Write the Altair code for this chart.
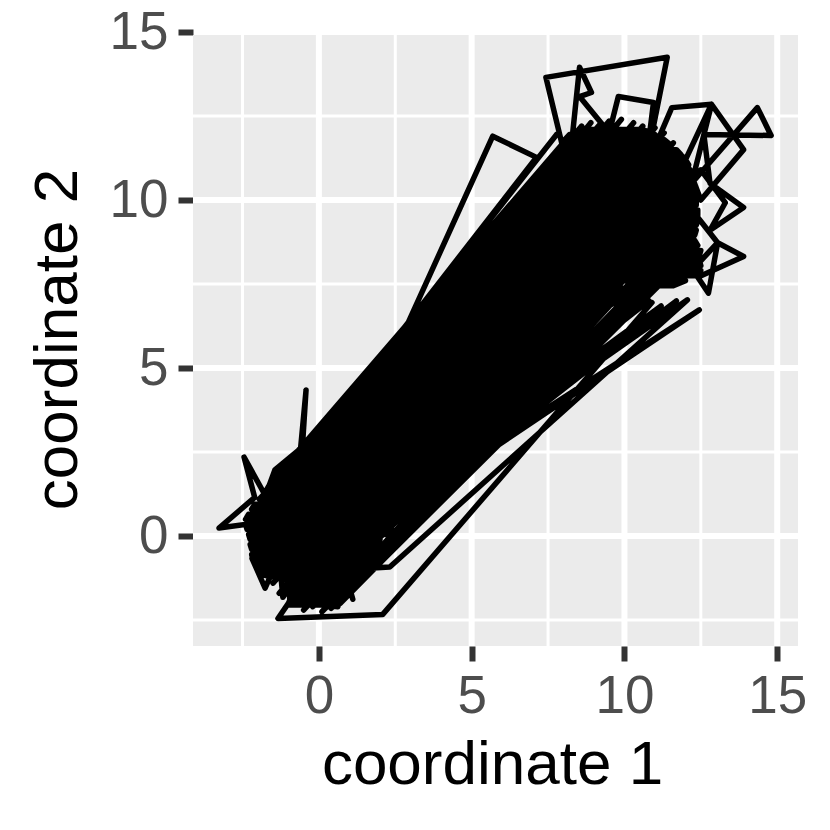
import altair as alt
import pandas as pd

# Path, in drawing order: coordinate 1 and coordinate 2
band_x = [-1.05,8.0,-1.35,8.3,-0.7,8.05,-1.9,8.6,-0.45,8.1,-1.6,8.9,-0.1,8.3,-2.1,9.2,0.05,8.25,-1.95,9.5,
          0.3,8.4,-2.2,9.9,0.5,8.5,-1.8,10.3,0.7,8.5,-1.9,10.6,0.8,8.7,-1.5,11.0,1.0,8.9,-1.3,11.3,
          1.15,9.0,-1.0,11.6,1.3,9.3,-0.75,11.9,1.45,9.5,-0.5,12.1,1.6,9.9,-0.2,12.3,1.7,10.3,0.1,12.35,
          1.75,10.7,0.4,12.3,1.5,11.0,0.7,12.2,1.2,11.4,1.0,12.0,0.9,11.7,
          -0.8,9.0,-0.5,9.4,-0.2,9.0,-1.0,9.9,0.0,9.2,-0.8,10.3,0.2,9.4,-0.6,10.6,0.4,9.7,-0.3,10.9,
          0.6,10.0,0.0,11.1,0.8,10.3,0.3,11.3,1.0,10.6]
band_y = [2.15,11.7,1.6,11.9,2.3,11.2,1.1,12.2,2.2,10.9,0.7,12.3,2.3,10.6,0.6,12.25,2.0,10.2,0.1,12.35,
          1.9,9.9,-0.3,12.4,1.7,9.6,-0.6,12.3,1.5,9.3,-1.1,12.2,1.2,9.0,-1.4,12.15,1.05,8.6,-1.7,12.0,
          0.8,8.3,-1.6,11.7,0.5,8.0,-2.0,11.3,0.25,7.7,-2.2,10.9,0.0,7.4,-2.1,10.4,-0.3,7.2,-2.25,10.0,
          -0.6,7.3,-2.15,9.6,-0.9,7.5,-2.0,9.1,-1.2,7.7,-1.7,8.7,-1.5,8.0,
          1.5,11.0,1.0,10.9,1.3,10.4,0.6,11.3,0.9,10.0,0.1,11.0,0.6,9.6,-0.4,10.6,0.3,9.3,-0.7,10.3,
          0.0,9.0,-1.0,9.9,-0.3,8.7,-1.2,9.4,-0.6,8.4]

sweep_low_x = [-1.25,-1.19,-1.13,-1.08,-1.02,-0.96,-0.91,-0.85,-0.79,-0.73,-0.68,-0.62,-0.56,-0.50,-0.45,-0.39,-0.33,-0.27,-0.22,-0.16,
               -0.10,-0.04,0.01,0.07,0.13,0.19,0.25,0.30,0.36,0.42,0.47,0.53,0.59,0.65,0.70,0.76,0.82,0.88,0.93,0.99]
sweep_low_y = [1.65,1.59,1.53,1.48,1.42,1.36,1.31,1.25,1.19,1.13,1.08,1.02,0.96,0.90,0.85,0.79,0.73,0.67,0.62,0.56,
               0.50,0.44,0.39,0.33,0.27,0.21,0.15,0.10,0.04,-0.02,-0.07,-0.13,-0.19,-0.25,-0.30,-0.36,-0.42,-0.48,-0.53,-0.59]
sweep_high_x = [8.25,8.32,8.39,8.46,8.53,8.60,8.67,8.74,8.81,8.88,8.95,9.02,9.09,9.16,9.23,9.30,9.37,9.44,9.51,9.58,
                9.65,9.72,9.79,9.86,9.93,10.00,10.07,10.14,10.21,10.28,10.35,10.42,10.49,10.56,10.63,10.70,10.77,10.84,10.91,10.98]
sweep_high_y = [11.25,11.18,11.11,11.04,10.97,10.90,10.83,10.76,10.69,10.62,10.55,10.48,10.41,10.34,10.27,10.20,10.13,10.06,9.99,9.92,
                9.85,9.78,9.71,9.64,9.57,9.50,9.43,9.36,9.29,9.22,9.15,9.08,9.01,8.94,8.87,8.80,8.73,8.66,8.59,8.52]

upper_rows_y = [12.1,11.95,11.8,11.65,11.5,11.35,11.2,11.05,10.9,10.75,10.6,10.45,10.3,10.15,10.0,9.85,
                9.7,9.55,9.4,9.25,9.1,8.95,8.8,8.65,8.5,8.35,8.2,8.05,7.9,7.75,7.6,7.45]
upper_rows_left = [8.6,8.2,8.05,8.0,7.95,7.9,7.9,7.9,7.9,8.0,8.0,8.0,8.0,8.0,8.0,8.0,
                   8.2,8.2,8.4,8.4,8.6,8.6,8.8,8.8,9.0,9.0,9.2,9.3,9.5,9.7,10.0,10.3]
upper_rows_right = [10.6,11.0,11.3,11.5,11.7,11.85,12.0,12.1,12.15,12.2,12.25,12.3,12.3,12.35,12.35,12.35,
                    12.4,12.4,12.4,12.35,12.35,12.3,12.3,12.4,12.5,12.45,12.45,12.5,12.5,12.3,12.0,11.6]

lower_rows_y = [2.0,1.85,1.7,1.55,1.4,1.25,1.1,0.95,0.8,0.65,0.5,0.35,0.2,0.05,-0.1,-0.25,
                -0.4,-0.55,-0.7,-0.85,-1.0,-1.15,-1.3,-1.45,-1.6,-1.75,-1.9,-2.05]
lower_rows_left = [-1.3,-1.4,-1.5,-1.6,-1.7,-1.8,-1.95,-2.1,-2.2,-2.3,-2.4,-2.4,-2.35,-2.3,-2.25,-2.25,
                   -2.2,-2.2,-2.15,-2.05,-1.9,-1.85,-1.1,-0.9,-0.8,-0.85,-0.9,-0.95]
lower_rows_right = [0.6,1.0,1.3,1.5,1.6,1.7,1.8,1.9,2.0,2.2,2.5,2.4,2.4,2.2,2.0,1.9,
                    1.85,1.8,1.75,1.65,1.2,1.1,1.1,1.05,1.0,0.9,0.7,0.6]

low_x = [-0.9,-2.0,-3.27,-2.1,-2.45,-1.75,-1.44,-0.6,-0.42,-0.55,-1.2,-2.19,-1.76,-1.3,-1.18,-0.45,-1.0,-1.34,
         2.09,10.9,9.0,-0.9,0.62,0.9,1.11,0.8,2.32,12.06,1.5,12.45,1.6,11.7,1.7,11.2,1.4,10.8,9.5]
low_y = [0.6,0.4,0.24,1.15,2.35,1.2,1.97,2.6,4.35,2.5,0.2,-0.66,-1.55,-0.6,-1.82,-0.9,-2.0,-2.45,
         -2.33,6.95,7.6,-1.9,-2.1,-1.2,-1.88,-1.0,-0.92,7.03,0.3,6.73,0.1,7.0,-0.1,6.85,0.3,7.0,8.5]

high_x = [1.0,5.69,7.12,-0.8,7.78,-1.0,8.0,7.43,11.4,10.95,10.0,8.25,8.53,8.92,8.53,9.5,9.8,10.95,10.8,
          11.1,11.55,12.85,13.9,12.5,12.0,12.85,12.2,14.35,14.8,12.6,12.8,13.9,12.8,13.3,12.5,11.5,
          12.3,13.05,13.9,12.4,12.75,13.05,12.3]
high_y = [2.5,11.9,11.27,2.0,11.95,1.8,11.5,13.65,14.25,12.2,10.5,11.5,13.95,13.2,13.08,12.0,13.08,12.9,11.8,
          11.8,12.75,12.85,11.5,10.0,11.2,12.85,10.5,12.75,11.92,11.95,10.5,9.78,9.1,9.92,10.9,10.0,
          8.0,8.73,8.32,7.7,7.23,8.73,9.6]

major_x = [0, 5, 10, 15]
minor_x = [-2.5, 2.5, 7.5, 12.5]
major_y = [0, 5, 10]
minor_y = [-2.5, 2.5, 7.5, 12.5]
tick_y = [0, 5, 10, 15]
panel_bottom = -3.27
panel_top = 14.91

coordinate_1, coordinate_2 = [], []
for a, b, c, d in zip(sweep_low_x, sweep_low_y, sweep_high_x, sweep_high_y):
    coordinate_1 += [a, c]
    coordinate_2 += [b, d]
for k, (r, a, b) in enumerate(zip(upper_rows_y, upper_rows_left, upper_rows_right)):
    coordinate_1 += [a, b] if k % 2 == 0 else [b, a]
    coordinate_2 += [r, r]
for k, (r, a, b) in enumerate(zip(lower_rows_y, lower_rows_left, lower_rows_right)):
    coordinate_1 += [a, b] if k % 2 == 0 else [b, a]
    coordinate_2 += [r, r]
coordinate_1 += band_x + low_x + high_x
coordinate_2 += band_y + low_y + high_y
path = pd.DataFrame({"x": coordinate_1, "y": coordinate_2, "i": range(len(coordinate_1))})

sx = alt.Scale(domain=[-4.12, 15.68], nice=False, zero=False)
sy = alt.Scale(domain=[-3.27, 15.0], nice=False, zero=False)

x_axis = alt.Axis(values=major_x, grid=False, domain=False, tickSize=15, tickWidth=6,
                  tickColor="#333333", labelColor="#4D4D4D", labelFontSize=53,
                  labelFont="Liberation Sans", labelPadding=9, labelFlush=False, labelOverlap=False,
                  titleFont="Liberation Sans", titleFontSize=62, titleFontWeight="normal",
                  titleColor="black", titlePadding=11, titleX=299, title="coordinate 1")
y_axis = alt.Axis(values=tick_y, grid=False, domain=False, tickSize=15, tickWidth=6,
                  tickColor="#333333", labelColor="#4D4D4D", labelFontSize=53,
                  labelFont="Liberation Sans", labelPadding=10, labelOverlap=False,
                  titleFont="Liberation Sans", titleFontSize=62, titleFontWeight="normal",
                  titleColor="black", titlePadding=20, title="coordinate 2")

panel = alt.Chart(pd.DataFrame({"a": [panel_bottom], "b": [panel_top]})).mark_rect(color="#EBEBEB").encode(
    x=alt.value(0), x2=alt.value(605),
    y=alt.Y("a:Q", scale=sy, axis=y_axis), y2="b:Q")

def vrules(vals, w):
    d = pd.DataFrame({"v": vals, "a": panel_bottom, "b": panel_top})
    return alt.Chart(d).mark_rule(color="white", strokeWidth=w).encode(
        x=alt.X("v:Q", scale=sx, axis=x_axis),
        y=alt.Y("a:Q", scale=sy, axis=y_axis), y2="b:Q")

def hrules(vals, w):
    return alt.Chart(pd.DataFrame({"v": vals})).mark_rule(color="white", strokeWidth=w).encode(
        y=alt.Y("v:Q", scale=sy, axis=y_axis))

line = alt.Chart(path).mark_line(color="black", strokeWidth=5.5, strokeJoin="round").encode(
    x=alt.X("x:Q", scale=sx, axis=x_axis), y=alt.Y("y:Q", scale=sy, axis=y_axis), order="i:Q")

chart = (panel + vrules(minor_x, 3) + hrules(minor_y, 3) + vrules(major_x, 6) + hrules(major_y, 6) + line).properties(
    width=605, height=614,
    padding={"left": 185, "top": 24, "right": 20, "bottom": 170},
    autosize=alt.AutoSizeParams(type="none"),
    background="white",
).configure_view(stroke=None)

chart.save("out.html", embed_options={"renderer": "svg", "actions": False})
